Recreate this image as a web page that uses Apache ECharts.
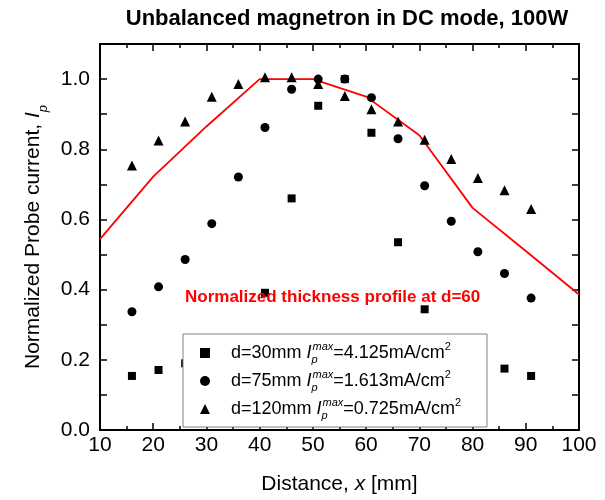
<!DOCTYPE html>
<html>
<head>
<meta charset="utf-8">
<script src="https://cdn.jsdelivr.net/npm/echarts@6/dist/echarts.min.js"></script>
<style>
  html, body { margin: 0; padding: 0; background: #fff; }
  #chart { width: 605px; height: 500px; }
</style>
</head>
<body>
<div id="chart"></div>
<script>
var FONT = 'Liberation Sans, Arial, sans-serif';

// probe positions (mm)
var distance = [16, 21, 26, 31, 36, 41, 46, 51, 56, 61, 66, 71, 76, 81, 86, 91];
// normalized probe current for each target distance
var d30 = [0.154, 0.171, 0.19, 0.22, 0.25, 0.391, 0.66, 0.924, 1.0, 0.847, 0.535, 0.344, 0.25, 0.2, 0.175, 0.154];
var d75 = [0.337, 0.408, 0.486, 0.588, 0.721, 0.862, 0.971, 1.0, 1.0, 0.947, 0.83, 0.696, 0.595, 0.508, 0.446, 0.376];
var d120 = [0.754, 0.825, 0.879, 0.95, 0.986, 1.005, 1.005, 0.986, 0.952, 0.914, 0.879, 0.827, 0.772, 0.718, 0.683, 0.63];
// thickness profile at d=60
var profileX = [10, 20, 30, 40, 50, 60, 70, 80, 90, 100];
var profileY = [0.544, 0.722, 0.865, 1.0, 1.0, 0.95, 0.84, 0.633, 0.51, 0.386];

var seriesNames = ['d=30mm', 'd=75mm', 'd=120mm'];
var ipMax = ['4.125', '1.613', '0.725'];

function pairs(xs, ys) {
    return xs.map(function (x, i) { return [x, ys[i]]; });
}

var tickLine = { color: '#000', width: 1.5 };

var option = {
    animation: false,
    backgroundColor: '#fff',
    textStyle: { fontFamily: FONT },
    title: {
        text: 'Unbalanced magnetron in DC mode, 100W',
        left: 342,
        textAlign: 'center',
        top: 3,
        textStyle: { fontFamily: FONT, fontSize: 22, fontWeight: 'bold', color: '#000' }
    },
    grid: { left: 100, right: 26, top: 44, bottom: 69 },
    legend: {
        data: seriesNames,
        orient: 'vertical',
        left: 183,
        top: 334,
        z: 10,
        backgroundColor: '#fff',
        borderColor: '#808080',
        borderWidth: 1,
        padding: [7, 26, 6, 17],
        itemGap: 4,
        itemWidth: 10,
        itemHeight: 10,
        formatter: function (name) {
            var i = seriesNames.indexOf(name);
            return '{a|' + name + ' }{i|I}{sub|p}{sup|max}{b|=' + ipMax[i] + 'mA/cm}{sup2|2}';
        },
        textStyle: {
            fontFamily: FONT,
            fontSize: 18,
            color: '#000',
            lineHeight: 24,
            rich: {
                a: { fontFamily: FONT, fontSize: 18, color: '#000', lineHeight: 24, padding: [0, 0, 0, 16] },
                b: { fontFamily: FONT, fontSize: 18, color: '#000', lineHeight: 24 },
                i: { fontFamily: FONT, fontSize: 18, fontStyle: 'italic', color: '#000', lineHeight: 24 },
                sub: { fontFamily: FONT, fontSize: 11, fontStyle: 'italic', color: '#000', verticalAlign: 'bottom', lineHeight: 24, width: 1 },
                sup: { fontFamily: FONT, fontSize: 11, fontStyle: 'italic', color: '#000', verticalAlign: 'top', lineHeight: 24 },
                sup2: { fontFamily: FONT, fontSize: 11, color: '#000', verticalAlign: 'top', lineHeight: 24 }
            }
        }
    },
    graphic: [{
        type: 'text',
        left: 185,
        top: 289,
        z: 5,
        style: {
            text: 'Normalized thickness profile at d=60',
            fill: '#ff0000',
            font: 'bold 17px ' + FONT
        }
    }],
    xAxis: [{
        type: 'value',
        min: 10,
        max: 100,
        interval: 10,
        name: 'Distance, {i|x} [mm]',
        nameLocation: 'middle',
        nameGap: 44,
        nameTextStyle: {
            fontFamily: FONT, fontSize: 21, color: '#000',
            rich: { i: { fontFamily: FONT, fontSize: 21, fontStyle: 'italic', color: '#000' } }
        },
        axisLine: { onZero: false, lineStyle: { color: '#000', width: 2 } },
        axisTick: { inside: true, length: 7, lineStyle: tickLine },
        minorTick: { show: true, splitNumber: 2, length: 4, lineStyle: tickLine },
        axisLabel: { fontFamily: FONT, fontSize: 21, color: '#000', margin: 5 },
        splitLine: { show: false }
    }, {
        type: 'value',
        position: 'top',
        min: 10,
        max: 100,
        interval: 10,
        axisLine: { onZero: false, lineStyle: { color: '#000', width: 2 } },
        axisTick: { inside: true, length: 7, lineStyle: tickLine },
        minorTick: { show: true, splitNumber: 2, length: 4, lineStyle: tickLine },
        axisLabel: { show: false },
        splitLine: { show: false }
    }],
    yAxis: [{
        type: 'value',
        min: 0,
        max: 1.1,
        interval: 0.1,
        name: 'Normalized Probe current, {i|I}{sub|p}',
        nameLocation: 'middle',
        nameRotate: 90,
        nameGap: 56,
        nameTextStyle: {
            fontFamily: FONT, fontSize: 21, color: '#000',
            rich: {
                i: { fontFamily: FONT, fontSize: 21, fontStyle: 'italic', color: '#000' },
                sub: { fontFamily: FONT, fontSize: 13, fontStyle: 'italic', color: '#000', verticalAlign: 'bottom', padding: [0, 0, -6, 0] }
            }
        },
        axisLine: { onZero: false, lineStyle: { color: '#000', width: 2 } },
        axisTick: { inside: true, length: 7, lineStyle: tickLine },
        axisLabel: {
            fontFamily: FONT, fontSize: 21, color: '#000', margin: 10,
            formatter: function (v) {
                return Math.round(v * 10) % 2 === 0 ? v.toFixed(1) : '';
            }
        },
        splitLine: { show: false }
    }, {
        type: 'value',
        position: 'right',
        min: 0,
        max: 1.1,
        interval: 0.1,
        axisLine: { onZero: false, lineStyle: { color: '#000', width: 2 } },
        axisTick: { inside: true, length: 7, lineStyle: tickLine },
        axisLabel: { show: false },
        splitLine: { show: false }
    }],
    series: [{
        name: 'profile',
        type: 'line',
        data: pairs(profileX, profileY),
        showSymbol: false,
        symbol: 'none',
        lineStyle: { color: '#ff0000', width: 1.8 },
        z: 1
    }, {
        name: 'd=30mm',
        type: 'scatter',
        symbol: 'rect',
        symbolSize: 8,
        itemStyle: { color: '#000', opacity: 1 },
        data: pairs(distance, d30)
    }, {
        name: 'd=75mm',
        type: 'scatter',
        symbol: 'circle',
        symbolSize: 9,
        itemStyle: { color: '#000', opacity: 1 },
        data: pairs(distance, d75)
    }, {
        name: 'd=120mm',
        type: 'scatter',
        symbol: 'triangle',
        symbolSize: 10,
        itemStyle: { color: '#000', opacity: 1 },
        data: pairs(distance, d120)
    }]
};

var chart = echarts.init(document.getElementById('chart'));
chart.setOption(option);
</script>
</body>
</html>
